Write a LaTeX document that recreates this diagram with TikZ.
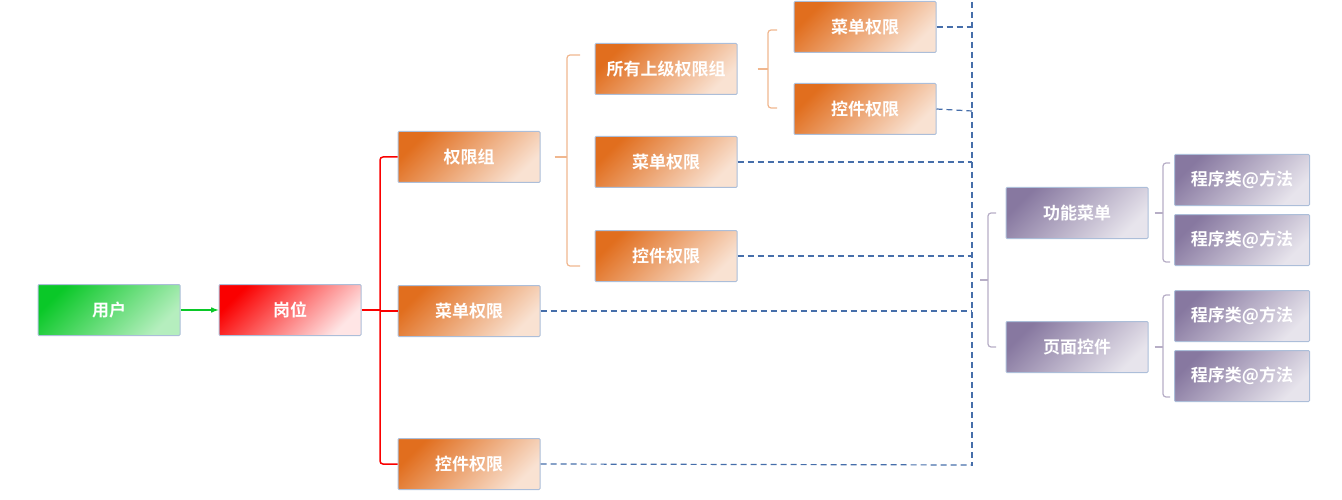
\documentclass[tikz,border=0pt]{standalone}
\usepackage{fontspec}
\newfontfamily\cjk{Noto Sans CJK SC}[BoldFont={Noto Sans CJK SC Bold}]
\usetikzlibrary{positioning}
\definecolor{grn}{RGB}{10,200,40}
\definecolor{rd}{RGB}{250,0,0}
\definecolor{org}{RGB}{225,110,30}
\definecolor{prp}{RGB}{135,120,160}
\definecolor{dsh}{RGB}{70,110,170}
\tikzset{
  box/.style={minimum width=142pt, minimum height=51pt, inner sep=0pt,
    draw=dsh!45, line width=1pt, text=white, font=\cjk\bfseries\fontsize{17}{17}\selectfont,
    rounded corners=1pt},
  grnbox/.style={box, left color=grn, right color=grn!30, shading angle=45},
  rdbox/.style={box, left color=rd, right color=rd!10, shading angle=45},
  orgbox/.style={box, left color=org, right color=org!20, shading angle=45},
  prpbox/.style={box, left color=prp, right color=prp!20, shading angle=45},
  smallbox/.style={prpbox, minimum width=135pt},
  link/.style={dsh, dash pattern=on 6pt off 4pt, line width=1.2pt},
}
\begin{document}
\begin{tikzpicture}[x=1pt,y=-1pt]
  \useasboundingbox (0,0) rectangle (1342,500);
  % main chain
  \node[grnbox] (user) at (109,310) {用户};
  \node[rdbox] (post) at (290,310) {岗位};
  \node[orgbox] (group) at (469,157) {权限组};
  \node[orgbox] (menu) at (469,311) {菜单权限};
  \node[orgbox] (ctrl) at (469,464) {控件权限};
  % group members
  \node[orgbox] (parent) at (666,69) {所有上级权限组};
  \node[orgbox] (gmenu) at (666,162) {菜单权限};
  \node[orgbox] (gctrl) at (666,256) {控件权限};
  \node[orgbox] (pmenu) at (865,27) {菜单权限};
  \node[orgbox] (pctrl) at (865,109) {控件权限};
  % functions
  \node[prpbox] (func) at (1077,213) {功能菜单};
  \node[prpbox] (page) at (1077,347) {页面控件};
  \node[smallbox] (m1) at (1242,180) {程序类@方法};
  \node[smallbox] (m2) at (1242,240) {程序类@方法};
  \node[smallbox] (m3) at (1242,316) {程序类@方法};
  \node[smallbox] (m4) at (1242,376) {程序类@方法};

  \draw[grn, line width=1.5pt, -latex] (user) -- (post);
  % brackets
  \draw[rd, line width=1.5pt] (post.east) -- ++(18,0);
  \draw[rd, line width=1.5pt, rounded corners=3pt] (group.west) -| (380,311) |- (ctrl.west);
  \draw[rd, line width=1.5pt] (380,311) -- (menu.west);
  \draw[org!50, line width=1.2pt] (group.east) ++(14,0) -- ++(12,0);
  \draw[org!50, line width=1.2pt, rounded corners=3pt] (580,55) -| (567,157) |- (580,266);
  \draw[org!50, line width=1.2pt] (parent.east) ++(20,0) -- ++(10,0);
  \draw[org!50, line width=1.2pt, rounded corners=3pt] (777,30) -| (768,69) |- (777,108);
  \draw[prp!60, line width=1.2pt] (980,280) -- (988,280);
  \draw[prp!60, line width=1.2pt, rounded corners=3pt] (996,213) -| (988,280) |- (996,347);
  \draw[prp!60, line width=1.2pt] (func.east) ++(6,0) -- ++(8,0);
  \draw[prp!60, line width=1.2pt, rounded corners=3pt] (1170,163) -| (1163,213) |- (1170,262);
  \draw[prp!60, line width=1.2pt] (page.east) ++(6,0) -- ++(8,0);
  \draw[prp!60, line width=1.2pt, rounded corners=3pt] (1170,295) -| (1163,347) |- (1170,397);
  % dashed links
  \coordinate (bus) at (972,2);
  \draw[link] (bus) -- (972,466);
  \draw[link] (pmenu.east) -- (972,27);
  \draw[link] (pctrl.east) -- (972,111);
  \draw[link] (gmenu.east) -- (972,162);
  \draw[link] (gctrl.east) -- (972,256);
  \draw[link] (menu.east) -- (972,311);
  \draw[link] (ctrl.east) -- (972,465);
\end{tikzpicture}
\end{document}
